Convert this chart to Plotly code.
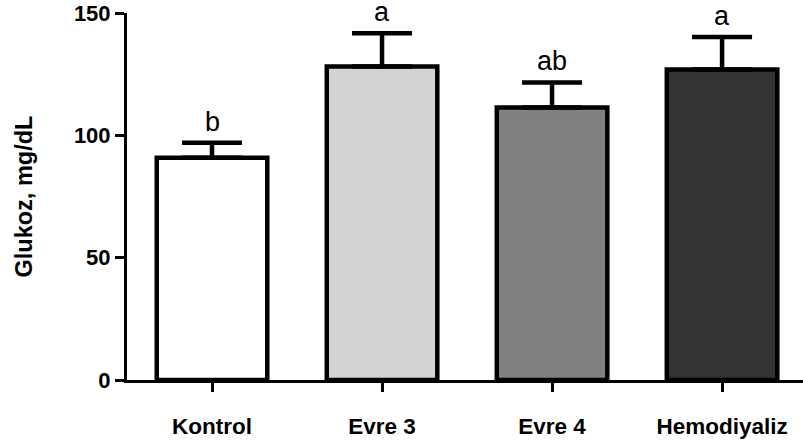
import plotly.graph_objects as go

categories = ["Kontrol", "Evre 3", "Evre 4", "Hemodiyaliz"]
means = [90.8, 128.1, 111.4, 126.9]
sem = [6.2, 13.6, 10.2, 13.3]
letters = ["b", "a", "ab", "a"]
colors = ["#FFFFFF", "#D3D3D3", "#808080", "#333333"]
yticks = [0, 50, 100, 150]

W, H = 803, 447
ML, MR, MT, MB = 127, 0, 13, 67

fig = go.Figure()
fig.add_trace(go.Bar(
    x=categories, y=means, width=0.65,
    marker=dict(color=colors, line=dict(color="black", width=4.5)),
    error_y=dict(type="data", array=sem, arrayminus=[0] * len(sem), symmetric=False,
                 color="black", thickness=4.5, width=30),
    showlegend=False, hoverinfo="skip",
))

for c, m, s, l in zip(categories, means, sem, letters):
    fig.add_annotation(x=c, y=m + s, text=l, showarrow=False, yanchor="bottom",
                       yshift=4, font=dict(family="Liberation Sans, Arial", size=27, color="black"))

fig.add_annotation(xref="paper", yref="paper", x=-(ML - 23) / (W - ML - MR), y=0.5,
                   text="<b>Glukoz, mg/dL</b>", textangle=-90, showarrow=False,
                   xanchor="center", yanchor="middle",
                   font=dict(family="Liberation Sans, Arial", size=23.5, color="black"))

fig.update_layout(
    width=W, height=H, margin=dict(l=ML, r=MR, t=MT, b=MB),
    paper_bgcolor="white", plot_bgcolor="white",
    xaxis=dict(range=[-0.5, 3.476], showline=True, linecolor="black", linewidth=3,
               ticks="outside", ticklen=9, tickwidth=2.5, tickcolor="black",
               ticklabelstandoff=15, showgrid=False, zeroline=False,
               tickfont=dict(family="Liberation Sans, Arial", size=22.5, color="black", weight="bold")),
    yaxis=dict(range=[0, 150], tickvals=yticks, ticktext=[str(v) for v in yticks],
               showline=True, linecolor="black", linewidth=3,
               ticks="outside", ticklen=9, tickwidth=2.5, tickcolor="black",
               ticklabeloverflow="allow",
               showgrid=False, zeroline=False,
               tickfont=dict(family="Liberation Sans, Arial", size=22, color="black", weight="bold")),
    bargap=0.35,
)

fig.write_html("out.html", config={"displayModeBar": False},
               post_script="document.body.style.margin='0px';document.body.style.overflow='hidden';")
